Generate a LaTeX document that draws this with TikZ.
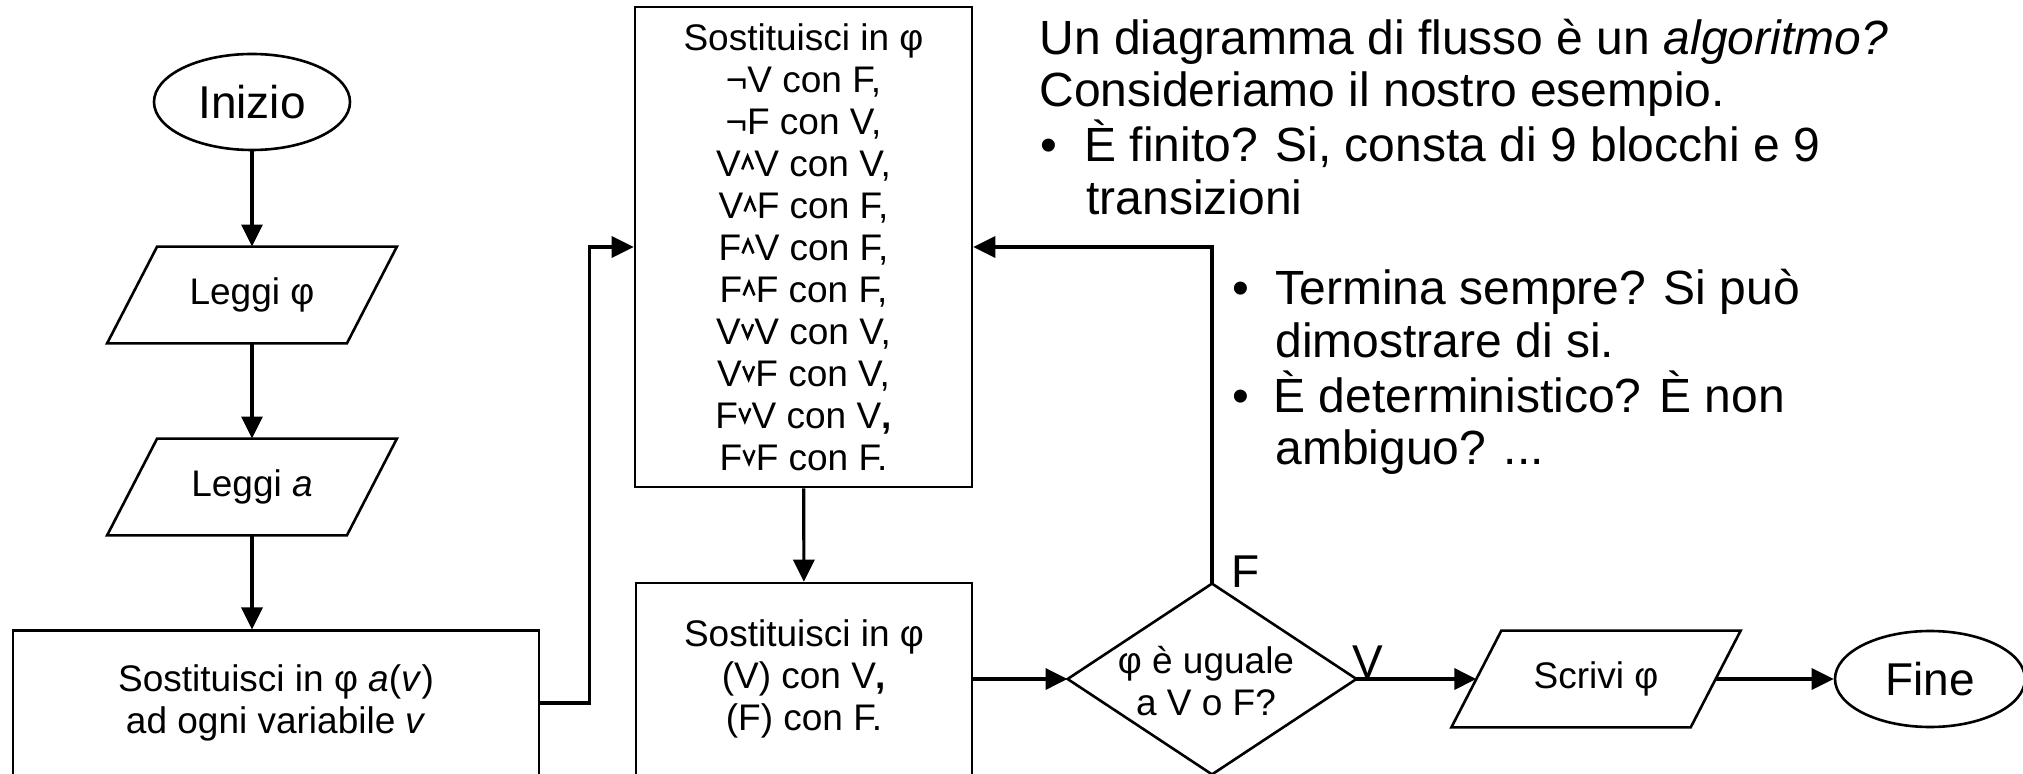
\documentclass[tikz,border=0pt]{standalone}
\usepackage{fontspec}
\setmainfont{Liberation Sans}
\usetikzlibrary{arrows.meta,calc,shapes.geometric}
\newcommand\lgand{\tikz[baseline=0pt,x=1pt,y=1pt,line width=1.3pt,line join=miter]{\path (0,0) (6.8,0); \draw (0.7,3.4)--(3.4,10.0)--(6.1,3.4);}}
\newcommand\lgor{\tikz[baseline=0pt,x=1pt,y=1pt,line width=1.3pt,line join=miter]{\path (0,0) (6.8,0); \draw (0.7,10.0)--(3.4,3.4)--(6.1,10.0);}}
\begin{document}
\begin{tikzpicture}[x=0.5pt,y=-0.5pt,
  outline/.style={line width=1.3pt, line join=miter},
  conn/.style={line width=1.6pt, -{Triangle[length=11pt,width=10.5pt]}},
  boxtext/.style={font=\fontsize{18.5}{21}\selectfont, align=center, inner sep=0pt},
  bigtext/.style={font=\fontsize{23}{27}\selectfont},
  side/.style={font=\fontsize{24}{28}\selectfont, anchor=base west, inner sep=0pt},
  ]
\useasboundingbox (0,0) rectangle (2023,774);
\clip (0,0) rectangle (2023,774);

% nodes
\node[draw, outline, ellipse, minimum width=98pt, minimum height=48pt, inner sep=0pt, bigtext] (start) at (252,102) {Inizio};
\node[boxtext, minimum width=119.5pt, minimum height=48pt] (lphi) at (252,295) {Leggi φ};
\node[boxtext, minimum width=119.5pt, minimum height=48pt] (la) at (252,487) {Leggi \textit{a}};
\node[draw, outline, boxtext, minimum width=263pt, minimum height=72.3pt] (b1) at (276,703) {Sostituisci in φ \textit{a}(\textit{v})\\ ad ogni variabile \textit{v}};
\node[draw, outline, boxtext, minimum width=168.5pt, minimum height=240pt] (b2) at (803.5,247) {Sostituisci in φ\\ ¬V con F,\\ ¬F con V,\\ V\lgand V con V,\\ V\lgand F con F,\\ F\lgand V con F,\\ F\lgand F con F,\\ V\lgor V con V,\\ V\lgor F con V,\\ F\lgor V con V\textbf{,}\\ F\lgor F con F.};
\node[draw, outline, boxtext, minimum width=168pt, minimum height=96pt] (b3) at (804,679) {Sostituisci in φ\\ (V) con V\textbf{,}\\ (F) con F.};
\node[minimum width=144pt, minimum height=95pt, inner sep=0pt] (dia) at (1212,679) {};
\node[boxtext] (dq) at (1206,681) {φ è uguale\\ a V o F?};
\node[boxtext, minimum width=119.25pt, minimum height=48pt] (scr) at (1596,679) {Scrivi φ};
\node[draw, outline, ellipse, minimum width=95pt, minimum height=48pt, inner sep=0pt, bigtext] (fine) at (1930,679) {Fine};

% shapes drawn around plain nodes
\foreach \n in {lphi,la,scr}
  \draw[outline] ($(\n.north west)+(25,0)$) -- ($(\n.north east)+(25,0)$) -- ($(\n.south east)+(-25,0)$) -- ($(\n.south west)+(-25,0)$) -- cycle;
\draw[outline] (dia.north) -- (dia.east) -- (dia.south) -- (dia.west) -- cycle;

% connectors
\draw[conn] (start) -- (lphi);
\draw[conn] (lphi) -- (la);
\draw[conn] (la) -- (la |- b1.north);
\draw[conn] (b1.east) -- ++(49,0) |- (b2.west);
\draw[conn] (b2) -- (b3);
\draw[conn] (b3.east) -- (dia.west);
\draw[conn] (dia.north) |- (b2.east);
\draw[conn] (dia.east) -- (scr.west);
\draw[conn] (scr.east) -- (fine.west);

% branch labels
\node[bigtext, anchor=base west, inner sep=0pt] (lf) at (1231,588) {F};
\node[bigtext, anchor=base west, inner sep=0pt] (lv) at (1352,677) {V};

% side text
\node[side] (t1) at (1039,55) {Un diagramma di flusso è un \textit{algoritmo?}};
\node[side] (t2) at (1039,107) {Consideriamo il nostro esempio.};
\node[side] (k1) at (1040,162) {•};
\node[side] (t3) at (1084,162) {È finito? Si, consta di 9 blocchi e 9};
\node[side] (t4) at (1086,215) {transizioni};
\node[side] (k2) at (1232,305) {•};
\node[side] (t5) at (1275,305) {Termina sempre? Si può};
\node[side] (t6) at (1275,358) {dimostrare di si.};
\node[side] (k3) at (1232,413) {•};
\node[side] (t7) at (1273,413) {È deterministico? È non};
\node[side] (t8) at (1275,465) {ambiguo? ...};
\end{tikzpicture}
\end{document}
